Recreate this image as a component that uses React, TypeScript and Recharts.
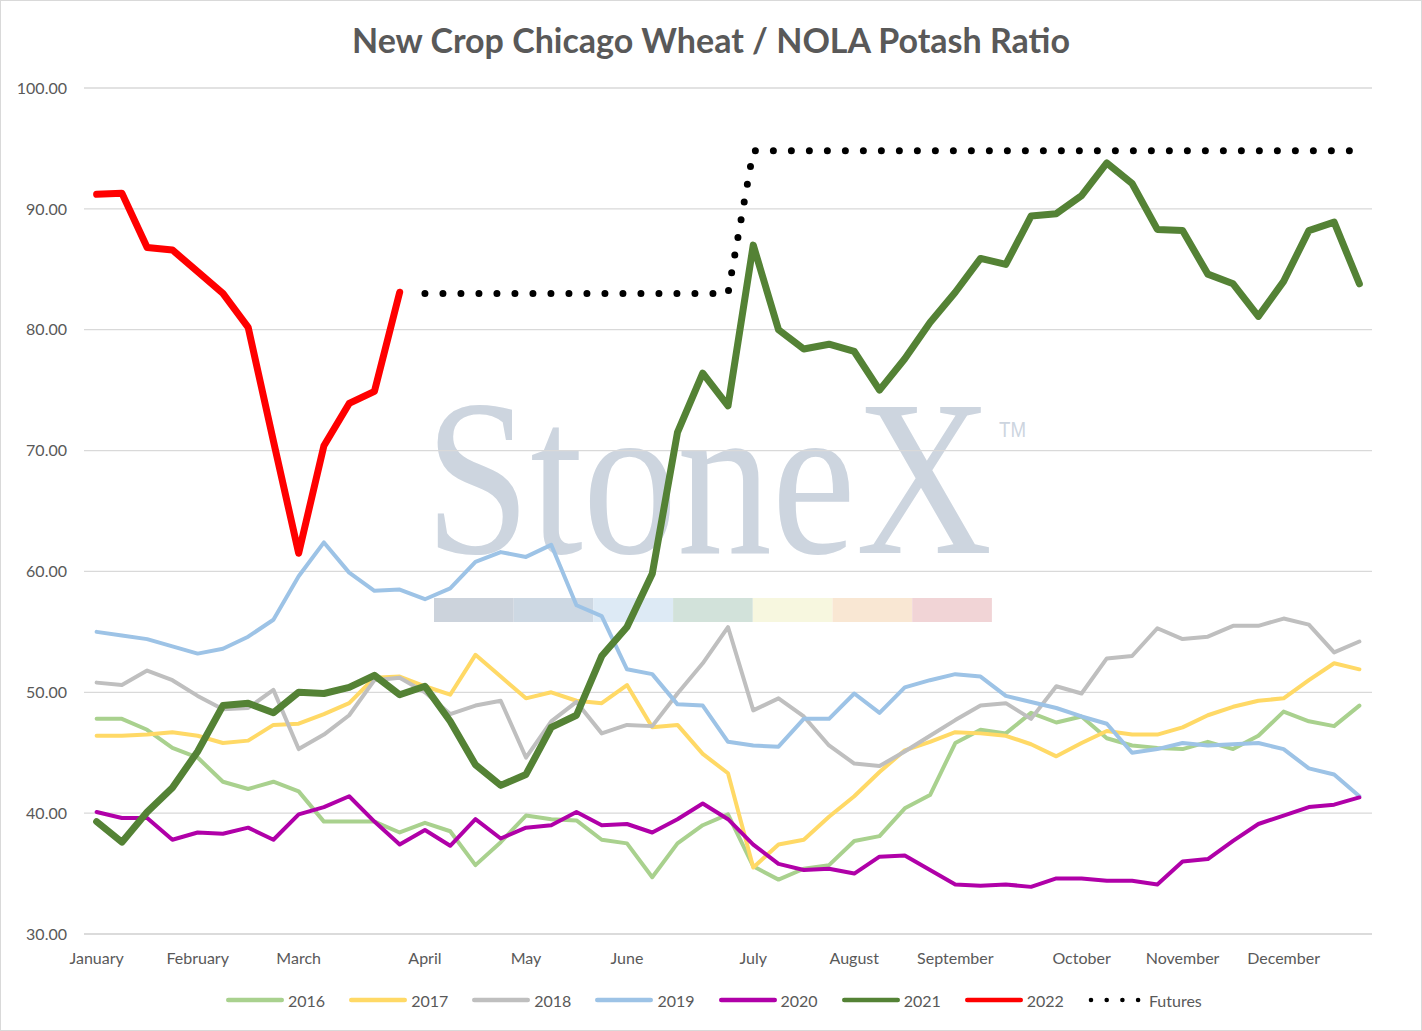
import React from 'react';
import { LineChart, Line, XAxis, YAxis, CartesianGrid, Legend } from 'recharts';

const FONT = 'Lato, "Open Sans", sans-serif';
const TEXT = '#595959';
const GRID = '#d9d9d9';

// weekly points, Jan -> Dec
const weeks = [
  0, 1, 2, 3, 4, 5, 6, 7, 8, 9, 10, 11, 12, 13, 14, 15, 16, 17, 18, 19, 20, 21, 22, 23, 24, 25,
  26, 27, 28, 29, 30, 31, 32, 33, 34, 35, 36, 37, 38, 39, 40, 41, 42, 43, 44, 45, 46, 47, 48, 49, 50,
];
const monthTicks = [0, 4, 8, 13, 17, 21, 26, 30, 34, 39, 43, 47];
const monthNames = [
  'January', 'February', 'March', 'April', 'May', 'June',
  'July', 'August', 'September', 'October', 'November', 'December',
];
const yTicks = [30, 40, 50, 60, 70, 80, 90, 100];

const y2016 = [
  47.8, 47.8, 46.9, 45.4, 44.6, 42.6, 42.0, 42.6, 41.8, 39.3, 39.3, 39.3, 38.4, 39.2, 38.5, 35.7, 37.6,
  39.8, 39.5, 39.4, 37.8, 37.5, 34.7, 37.5, 39.0, 39.9, 35.6, 34.5, 35.4, 35.7, 37.7, 38.1, 40.4, 41.5,
  45.8, 46.9, 46.6, 48.3, 47.5, 48.0, 46.2, 45.6, 45.4, 45.3, 45.9, 45.3, 46.4, 48.4, 47.6, 47.2, 48.9,
];
const y2017 = [
  46.4, 46.4, 46.5, 46.7, 46.4, 45.8, 46.0, 47.3, 47.4, 48.2, 49.1, 51.2, 51.3, 50.5, 49.8, 53.1, 51.3,
  49.5, 50.0, 49.3, 49.1, 50.6, 47.1, 47.3, 44.9, 43.3, 35.5, 37.4, 37.8, 39.7, 41.4, 43.4, 45.2, 45.9,
  46.7, 46.6, 46.4, 45.7, 44.7, 45.8, 46.8, 46.5, 46.5, 47.1, 48.1, 48.8, 49.3, 49.5, 51.0, 52.4, 51.9,
];
const y2018 = [
  50.8, 50.6, 51.8, 51.0, 49.7, 48.6, 48.7, 50.2, 45.3, 46.5, 48.1, 51.0, 51.2, 50.0, 48.2, 48.9, 49.3,
  44.6, 47.6, 49.2, 46.6, 47.3, 47.2, 49.9, 52.4, 55.4, 48.5, 49.5, 48.0, 45.6, 44.1, 43.9, 45.1, 46.4,
  47.7, 48.9, 49.1, 47.8, 50.5, 49.9, 52.8, 53.0, 55.3, 54.4, 54.6, 55.5, 55.5, 56.1, 55.6, 53.3, 54.2,
];
const y2019 = [
  55.0, 54.7, 54.4, 53.8, 53.2, 53.6, 54.6, 56.0, 59.6, 62.4, 59.9, 58.4, 58.5, 57.7, 58.6, 60.8, 61.6,
  61.2, 62.2, 57.2, 56.3, 51.9, 51.5, 49.0, 48.9, 45.9, 45.6, 45.5, 47.8, 47.8, 49.9, 48.3, 50.4, 51.0,
  51.5, 51.3, 49.7, 49.2, 48.7, 48.0, 47.4, 45.0, 45.3, 45.8, 45.6, 45.7, 45.8, 45.3, 43.7, 43.2, 41.4,
];
const y2020 = [
  40.1, 39.6, 39.6, 37.8, 38.4, 38.3, 38.8, 37.8, 39.9, 40.5, 41.4, 39.3, 37.4, 38.6, 37.3, 39.5, 37.9,
  38.8, 39.0, 40.1, 39.0, 39.1, 38.4, 39.5, 40.8, 39.5, 37.4, 35.8, 35.3, 35.4, 35.0, 36.4, 36.5, 35.3,
  34.1, 34.0, 34.1, 33.9, 34.6, 34.6, 34.4, 34.4, 34.1, 36.0, 36.2, 37.7, 39.1, 39.8, 40.5, 40.7, 41.3,
];
const y2021 = [
  39.3, 37.6, 40.1, 42.1, 45.1, 48.9, 49.1, 48.3, 50.0, 49.9, 50.4, 51.4, 49.8, 50.5, 47.6, 44.0, 42.3,
  43.2, 47.1, 48.1, 53.0, 55.4, 59.8, 71.5, 76.4, 73.7, 87.0, 80.0, 78.4, 78.8, 78.2, 75.0, 77.6, 80.6,
  83.1, 85.9, 85.4, 89.4, 89.6, 91.1, 93.8, 92.1, 88.3, 88.2, 84.6, 83.8, 81.1, 84.0, 88.2, 88.9, 83.8,
];
const y2022 = [
  91.2, 91.3, 86.8, 86.6, 84.8, 83.0, 80.2, 70.8, 61.5, 70.4, 73.9, 74.9, 83.1,
];
const futures = [
  null, null, null, null, null, null, null, null, null, null, null, null, null,
  83.0, 83.0, 83.0, 83.0, 83.0, 83.0, 83.0, 83.0, 83.0, 83.0, 83.0, 83.0, 83.0,
  94.8, 94.8, 94.8, 94.8, 94.8, 94.8, 94.8, 94.8, 94.8, 94.8, 94.8, 94.8, 94.8,
  94.8, 94.8, 94.8, 94.8, 94.8, 94.8, 94.8, 94.8, 94.8, 94.8, 94.8, 94.8, 94.8,
];

const rows = weeks.map((w, i) => ({
  i: w,
  s2016: y2016[i],
  s2017: y2017[i],
  s2018: y2018[i],
  s2019: y2019[i],
  s2020: y2020[i],
  s2021: y2021[i],
  s2022: i < y2022.length ? y2022[i] : null,
  futures: futures[i],
}));

const series = [
  { key: 's2016', name: '2016', color: '#a9d18e', width: 4 },
  { key: 's2017', name: '2017', color: '#ffd966', width: 4 },
  { key: 's2018', name: '2018', color: '#bfbfbf', width: 4 },
  { key: 's2019', name: '2019', color: '#9dc3e6', width: 4 },
  { key: 's2020', name: '2020', color: '#b000a8', width: 4 },
  { key: 's2021', name: '2021', color: '#548235', width: 7 },
  { key: 's2022', name: '2022', color: '#ff0000', width: 7 },
  { key: 'futures', name: 'Futures', color: '#000000', width: 7, dash: '0 18' },
];

const stripColors = ['#ccd3dc', '#cdd8e3', '#ddeaf5', '#d2e2da', '#f7f7df', '#f9e7d3', '#f1d4d6'];

const renderLegend = () => (
  <div
    style={{
      display: 'flex',
      justifyContent: 'flex-start',
      alignItems: 'center',
      height: 20,
      paddingLeft: 226,
      fontFamily: FONT,
      fontSize: 16,
      color: TEXT,
    }}
  >
    {series.map((s) =>
      s.dash ? (
        <div key={s.key} style={{ display: 'flex', alignItems: 'center' }}>
          <svg width={53} height={12}>
            <line
              x1={3}
              y1={6}
              x2={50.2}
              y2={6}
              stroke={s.color}
              strokeWidth={4.6}
              strokeLinecap="round"
              strokeDasharray="0 15.7"
            />
          </svg>
          <span style={{ marginLeft: 8 }}>{s.name}</span>
        </div>
      ) : (
        <div key={s.key} style={{ display: 'flex', alignItems: 'center', marginRight: 24 }}>
          <svg width={58} height={12}>
            <line x1={2.3} y1={6} x2={55.7} y2={6} stroke={s.color} strokeWidth={4.6} strokeLinecap="round" />
          </svg>
          <span style={{ marginLeft: 4 }}>{s.name}</span>
        </div>
      ),
    )}
  </div>
);

export default function App() {
  return (
    <div
      style={{
        position: 'absolute',
        left: 0,
        top: 0,
        width: 1422,
        height: 1031,
        background: '#fff',
        boxSizing: 'border-box',
        border: `1px solid ${GRID}`,
        overflow: 'hidden',
      }}
    >
      <svg width={1422} height={1031} style={{ position: 'absolute', left: -1, top: -1 }}>
        <text x={711} y={53} textAnchor="middle" fontFamily={FONT} fontWeight="bold" fontSize={34} fill={TEXT}>
          New Crop Chicago Wheat / NOLA Potash Ratio
        </text>
        <text
          transform="translate(425 553) scale(0.852 1)"
          fontFamily='"Liberation Serif", "DejaVu Serif", serif'
          fontSize={222}
          fill="#cdd5df"
        >
          StoneX
        </text>
        <text x={999} y={437} fontFamily='"Liberation Sans", sans-serif' fontSize={22} fill="#cdd5df" textLength={27} lengthAdjust="spacingAndGlyphs">
          TM
        </text>
        {stripColors.map((c, k) => (
          <rect key={c} x={434 + k * 79.7} y={598} width={79.7} height={24} fill={c} />
        ))}
      </svg>
      <LineChart
        width={1422}
        height={1031}
        data={rows}
        margin={{ top: 88, right: 50, bottom: 67, left: 0 }}
        style={{ position: 'absolute', left: -1, top: -1 }}
      >
        <CartesianGrid vertical={false} stroke={GRID} strokeWidth={1.3} />
        <XAxis
          type="number"
          dataKey="i"
          domain={[-0.5, 50.5]}
          ticks={monthTicks}
          interval={0}
          tickFormatter={(v: number) => monthNames[monthTicks.indexOf(v)]}
          axisLine={{ stroke: GRID, strokeWidth: 1.3 }}
          tickLine={false}
          tickSize={6}
          tickMargin={13}
          height={30}
          tick={{ fill: TEXT, fontSize: 16, fontFamily: FONT }}
        />
        <YAxis
          type="number"
          domain={[30, 100]}
          ticks={yTicks}
          interval={0}
          width={84}
          tickFormatter={(v: number) => v.toFixed(2)}
          axisLine={false}
          tickLine={false}
          tickSize={6}
          tickMargin={11}
          tick={{ fill: TEXT, fontSize: 16, fontFamily: FONT }}
        />
        {series.map((s) => (
          <Line
            key={s.key}
            type="linear"
            dataKey={s.key}
            name={s.name}
            stroke={s.color}
            strokeWidth={s.width}
            strokeDasharray={s.dash}
            strokeLinecap="round"
            strokeLinejoin="round"
            dot={false}
            activeDot={false}
            connectNulls={false}
            isAnimationActive={false}
          />
        ))}
        <Legend
          layout="horizontal"
          verticalAlign="middle"
          align="center"
          wrapperStyle={{ top: 990, left: 0, width: 1422 }}
          content={renderLegend}
        />
      </LineChart>
    </div>
  );
}
